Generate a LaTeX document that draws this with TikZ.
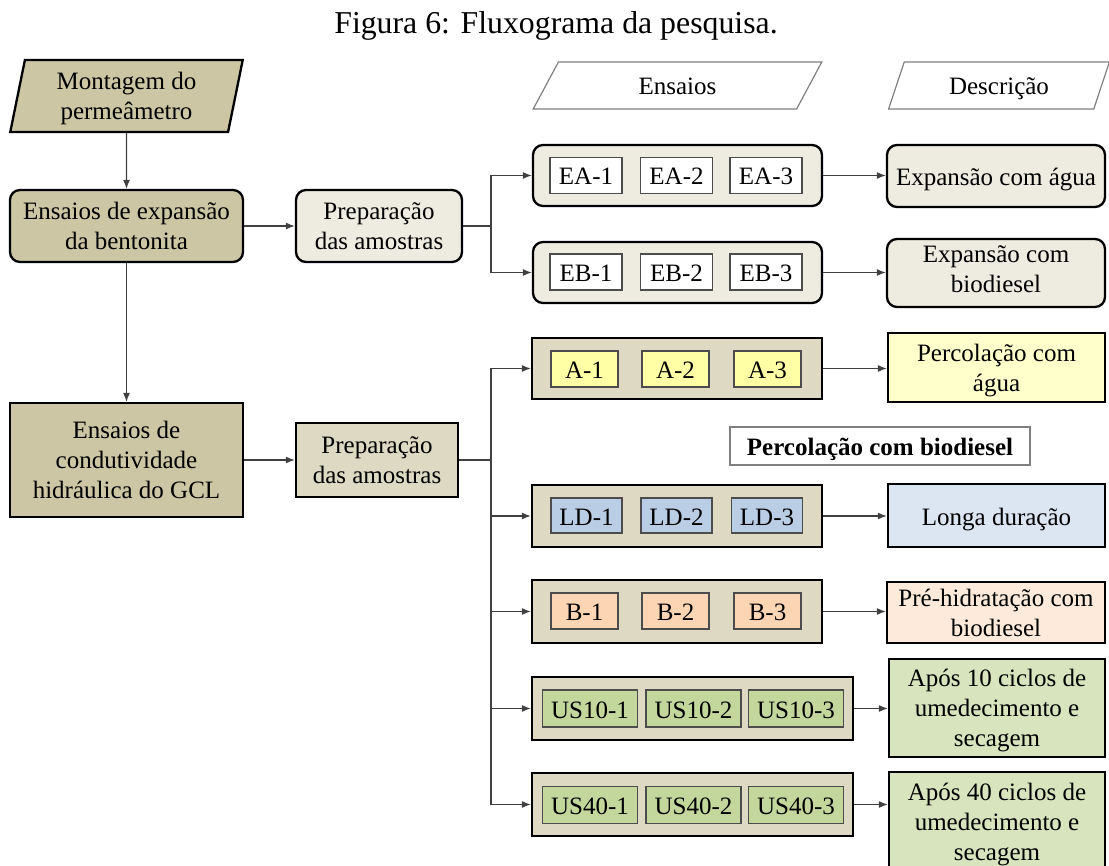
\documentclass[tikz,border=0pt]{standalone}
\usepackage{fontspec}
\setmainfont{Liberation Serif}
\usetikzlibrary{arrows.meta,shapes.geometric}

\definecolor{khaki}{HTML}{CCC6A4}
\definecolor{tanlight}{HTML}{EEECE1}
\definecolor{tanmid}{HTML}{DDD9C3}
\definecolor{yelin}{HTML}{FFFFA6}
\definecolor{yelout}{HTML}{FFFFCC}
\definecolor{bluin}{HTML}{B9CDE5}
\definecolor{bluout}{HTML}{DCE6F2}
\definecolor{orain}{HTML}{FCD5B5}
\definecolor{oraout}{HTML}{FDEADA}
\definecolor{grnin}{HTML}{C3D69B}
\definecolor{grnout}{HTML}{D7E4BD}
\definecolor{wire}{HTML}{404040}

% struts that keep every line of text at the same height in its box
\newcommand\topstrut{\rule{0pt}{13pt}}
\newcommand\botstrut{\rule[-3.5pt]{0pt}{3.5pt}}

\tikzset{
  sz/.style 2 args={minimum width=#1*0.5pt, minimum height=#2*0.5pt},
  base/.style={inner sep=0pt, align=center, font=\fontsize{12.5}{15}\selectfont, text=black,
    execute at begin node=\topstrut, execute at end node=\botstrut},
  ml/.style={text depth=-1pt},
  main/.style={base, draw=black, line width=1.15pt},
  rmain/.style={main, rounded corners=5pt},
  chip/.style={base, draw=black!70, line width=0.6pt},
  header/.style={base, trapezium, trapezium stretches=true,
    trapezium left angle=76, trapezium right angle=104},
  link/.style={draw=wire, line width=0.6pt},
  arr/.style={link, -{Latex[length=4.5pt,width=3.5pt]}},
}

\begin{document}
\begin{tikzpicture}[x=0.5pt,y=-0.5pt]
\useasboundingbox (0,0) rectangle (1109,866);
\clip (0,0) rectangle (1109,866);

% caption
\node[font=\fontsize{15.9}{19}\selectfont] (title) at (556,26) {Figura 6: Fluxograma da pesquisa.};

% left column
\node[header, ml, sz={233}{72}, fill=khaki, draw=black, line width=1.15pt,
      trapezium left angle=78, trapezium right angle=102] (mont) at (126.5,96) {Montagem do\\permeâmetro};
\node[rmain, ml, fill=khaki, sz={233}{72}] (exp) at (126.5,226) {Ensaios de expansão\\da bentonita};
\node[main, ml, fill=khaki, sz={233}{114}] (cond) at (126.5,460) {Ensaios de\\condutividade\\hidráulica do GCL};
\node[rmain, ml, fill=tanlight, sz={166}{72}] (prep1) at (379,226) {Preparação\\das amostras};
\node[main, ml, fill=tanmid, sz={162}{74}] (prep2) at (377,460) {Preparação\\das amostras};

% column headers
\node[header, sz={289}{47}, fill=white, draw=black!50, line width=0.6pt] (hens) at (677.5,85.5) {Ensaios};
\node[header, sz={222}{47}, fill=white, draw=black!50, line width=0.6pt] (hdesc) at (999,85.5) {Descrição};

% swelling tests
\node[rmain, fill=tanlight, sz={289}{61}] (eabox) at (677.5,175.5) {};
\node[rmain, fill=tanlight, sz={289}{61}] (ebbox) at (677.5,272.5) {};
\foreach \i/\x in {1/586,2/676.5,3/766} {
  \node[chip, fill=white, sz={72}{36}] (ea\i) at (\x,175.5) {EA-\i};
  \node[chip, fill=white, sz={72}{36}] (eb\i) at (\x,272) {EB-\i};
}
\node[rmain, fill=tanlight, sz={218}{62}] (eadesc) at (996,176) {Expansão com água};
\node[rmain, fill=tanlight, sz={218}{68}] (ebdesc) at (996,273) {Expansão com\\biodiesel};

% hydraulic conductivity tests
\node[main, fill=tanmid, sz={290}{61}] (abox) at (677,368.5) {};
\node[main, fill=tanmid, sz={290}{62}] (ldbox) at (677,516) {};
\node[main, fill=tanmid, sz={290}{63}] (bbox) at (677,611.5) {};
\node[main, fill=tanmid, sz={321}{63}] (us10box) at (692.5,708.5) {};
\node[main, fill=tanmid, sz={321}{63}] (us40box) at (692.5,804.5) {};
\foreach \i/\x in {1/584.5,2/675.5,3/767.5} {
  \node[chip, fill=yelin, sz={67}{36}] (a\i) at (\x,369) {A-\i};
  \node[chip, fill=orain, sz={67}{36}] (b\i) at (\x,611) {B-\i};
}
\foreach \i/\x in {1/586.5,2/676.5,3/767} {
  \node[chip, fill=bluin, sz={71}{35}] (ld\i) at (\x,515.5) {LD-\i};
}
\foreach \i/\x in {1/590,2/693.5,3/796} {
  \node[chip, fill=grnin, sz={95}{37}] (usa\i) at (\x,708.5) {US10-\i};
  \node[chip, fill=grnin, sz={95}{37}] (usb\i) at (\x,805) {US40-\i};
}

\node[main, ml, fill=yelout, sz={217}{69}] (adesc) at (996.5,367.5) {Percolação com\\água};
\node[base, draw=black!50, line width=0.6pt, fill=white, sz={300}{38}, font=\fontsize{12.5}{15}\selectfont\bfseries] (pbio) at (880,446) {Percolação com biodiesel};
\node[main, fill=bluout, sz={217}{63}] (lddesc) at (996.5,515.5) {Longa duração};
\node[main, ml, fill=oraout, sz={218}{61}] (bdesc) at (996,612.5) {Pré-hidratação com\\biodiesel};
\node[main, ml, fill=grnout, sz={216}{98}] (us10desc) at (997,708) {Após 10 ciclos de\\umedecimento e\\secagem};
\node[main, fill=grnout, sz={216}{106}] (us40desc) at (997,825) {Após 40 ciclos de\\umedecimento e\\secagem};

% connectors
\draw[arr] (mont) -- (exp);
\draw[arr] (exp) -- (cond);
\draw[arr] (exp) -- (prep1);
\draw[arr] (cond) -- (prep2);

\coordinate (j1) at (491,226);
\draw[link] (prep1.east) -- (j1);
\draw[arr] (j1) |- (eabox.west);
\draw[arr] (j1) |- (ebbox.west);

\coordinate (j2) at (491,460);
\draw[link] (prep2.east) -- (j2);
\foreach \t in {abox,ldbox,bbox,us10box,us40box}
  \draw[arr] (j2) |- (\t.west);

\foreach \s/\t in {eabox/eadesc,ebbox/ebdesc,abox/adesc,ldbox/lddesc,bbox/bdesc,us10box/us10desc,us40box/us40desc}
  \draw[arr] (\s.east) -- (\s.east -| \t.west);
\end{tikzpicture}
\end{document}
